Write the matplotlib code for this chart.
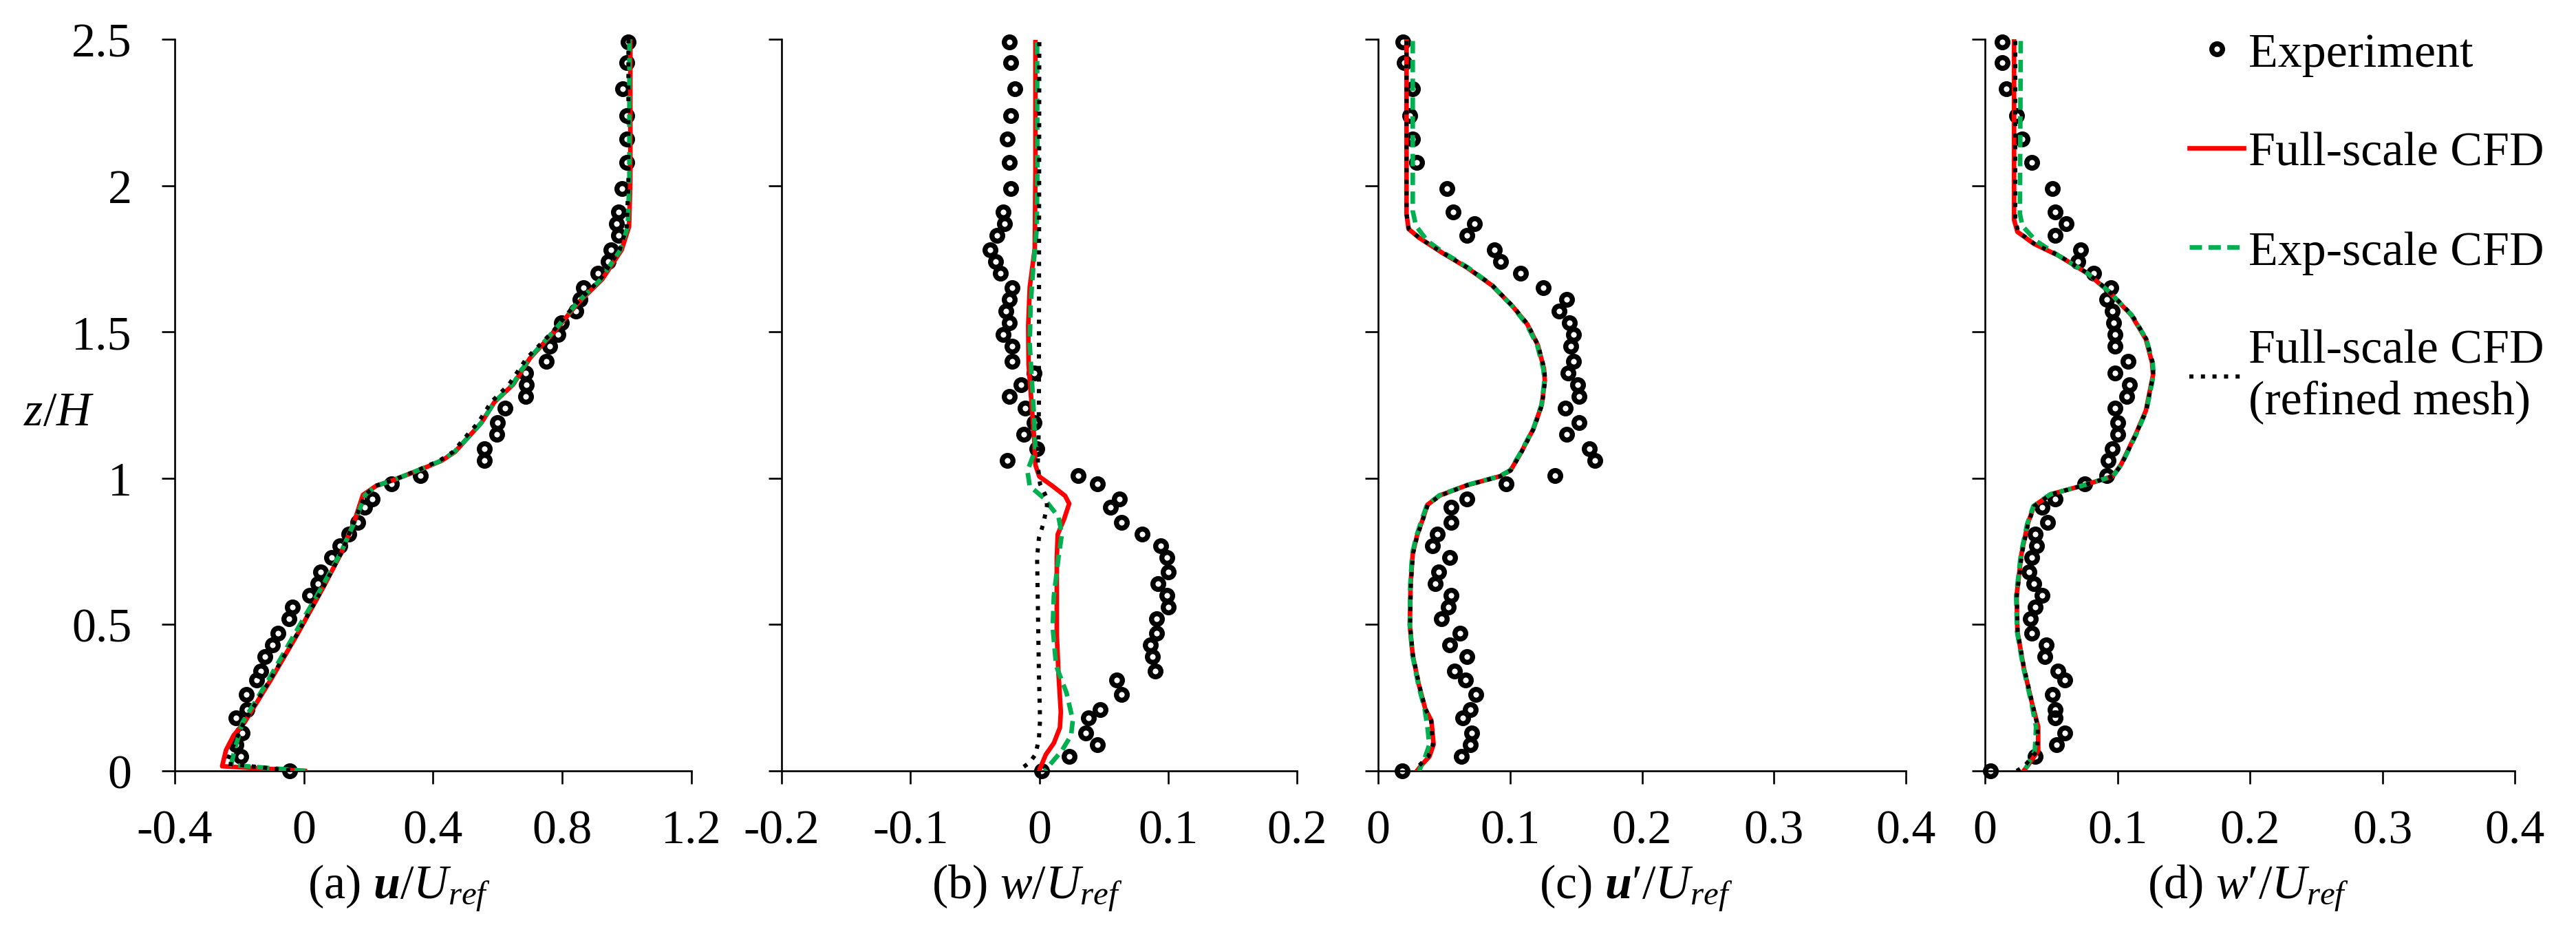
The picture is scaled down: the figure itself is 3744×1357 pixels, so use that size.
import matplotlib
matplotlib.use("Agg")
import matplotlib.pyplot as plt
from matplotlib.ticker import FormatStrFormatter

plt.rcParams["font.family"] = ["Liberation Serif", "DejaVu Serif"]
plt.rcParams["mathtext.fontset"] = "custom"
plt.rcParams["mathtext.rm"] = "Liberation Serif"
plt.rcParams["mathtext.it"] = "Liberation Serif:italic"
plt.rcParams["mathtext.bf"] = "Liberation Serif:italic:bold"
plt.rcParams["axes.unicode_minus"] = False
plt.rcParams["font.size"] = 21

# experiment heights (shared by all four profiles)
z_exp = [2.49, 2.42, 2.33, 2.24, 2.16, 2.08, 1.99, 1.91, 1.87, 1.83,
         1.78, 1.74, 1.70, 1.65, 1.61, 1.57, 1.53, 1.49, 1.45, 1.40,
         1.36, 1.32, 1.28, 1.24, 1.19, 1.15, 1.10, 1.06, 1.01, 0.98,
         0.93, 0.90, 0.85, 0.81, 0.77, 0.73, 0.68, 0.64, 0.60, 0.56,
         0.52, 0.47, 0.43, 0.39, 0.34, 0.31, 0.26, 0.21, 0.18, 0.13,
         0.09, 0.05, 0.0]

u_exp = [1.005, 1.0, 0.988, 1.0, 1.0, 1.0, 0.985, 0.975, 0.967, 0.975,
         0.952, 0.943, 0.91, 0.866, 0.855, 0.843, 0.798, 0.788, 0.761, 0.75,
         0.686, 0.69, 0.687, 0.623, 0.60, 0.598, 0.558, 0.558, 0.36, 0.272,
         0.211, 0.188, 0.168, 0.14, 0.111, 0.085, 0.052, 0.044, 0.018, -0.036,
         -0.046, -0.08, -0.097, -0.121, -0.134, -0.146, -0.178, -0.175, -0.21, -0.19,
         -0.209, -0.196, -0.044]

w_exp = [-0.023, -0.022, -0.019, -0.022, -0.025, -0.023, -0.022, -0.028, -0.027, -0.033,
         -0.038, -0.034, -0.030, -0.021, -0.023, -0.026, -0.023, -0.028, -0.021, -0.021,
         -0.004, -0.014, -0.023, -0.011, -0.004, -0.012, -0.002, -0.025, 0.030, 0.045,
         0.062, 0.055, 0.064, 0.080, 0.094, 0.099, 0.100, 0.092, 0.099, 0.100,
         0.091, 0.091, 0.086, 0.088, 0.090, 0.060, 0.064, 0.047, 0.038, 0.036,
         0.045, 0.023, 0.002]

up_exp = [0.019, 0.020, 0.026, 0.024, 0.026, 0.029, 0.052, 0.057, 0.073, 0.067,
          0.088, 0.093, 0.108, 0.125, 0.143, 0.137, 0.145, 0.148, 0.146, 0.148,
          0.144, 0.151, 0.152, 0.142, 0.152, 0.143, 0.160, 0.164, 0.134, 0.097,
          0.067, 0.055, 0.055, 0.045, 0.041, 0.054, 0.046, 0.043, 0.055, 0.053,
          0.048, 0.062, 0.054, 0.067, 0.058, 0.066, 0.074, 0.070, 0.064, 0.071,
          0.070, 0.063, 0.018]

wp_exp = [0.013, 0.013, 0.016, 0.024, 0.028, 0.035, 0.051, 0.053, 0.061, 0.053,
          0.072, 0.070, 0.082, 0.095, 0.092, 0.096, 0.097, 0.098, 0.098, 0.108,
          0.098, 0.109, 0.107, 0.098, 0.100, 0.100, 0.096, 0.093, 0.092, 0.075,
          0.053, 0.043, 0.047, 0.038, 0.039, 0.035, 0.033, 0.037, 0.043, 0.038,
          0.034, 0.035, 0.046, 0.045, 0.055, 0.060, 0.051, 0.053, 0.053, 0.060,
          0.054, 0.038, 0.004]

# (a) mean streamwise velocity, CFD
z_a_full = [2.50, 2.02, 1.86, 1.78, 1.68, 1.60, 1.50, 1.41, 1.32, 1.26, 1.19, 1.14,
            1.09, 1.06, 1.03, 0.995, 0.974, 0.943, 0.858, 0.747, 0.627, 0.465,
            0.31, 0.165, 0.122, 0.071, 0.016, 0.0]
u_a_full = [1.011, 1.011, 1.007, 0.984, 0.924, 0.850, 0.775, 0.700, 0.648, 0.590, 0.550, 0.509,
            0.468, 0.427, 0.362, 0.281, 0.224, 0.183, 0.158, 0.117, 0.060, -0.021,
            -0.103, -0.184, -0.217, -0.241, -0.253, 0.003]
z_a_exp = [2.50, 2.02, 1.86, 1.78, 1.68, 1.60, 1.50, 1.41, 1.32, 1.26, 1.19, 1.14,
           1.09, 1.06, 1.03, 0.995, 0.974, 0.943, 0.858, 0.747, 0.627, 0.465,
           0.31, 0.165, 0.07, 0.02, 0.0]
u_a_exp = [1.008, 1.008, 1.003, 0.98, 0.92, 0.847, 0.772, 0.698, 0.646, 0.59, 0.55, 0.509,
           0.466, 0.425, 0.36, 0.28, 0.225, 0.19, 0.16, 0.115, 0.055, -0.03,
           -0.11, -0.19, -0.215, -0.225, 0.005]
z_a_ref = [2.50, 2.02, 1.86, 1.78, 1.68, 1.60, 1.50, 1.41, 1.32, 1.26, 1.19, 1.14,
           1.09, 1.06, 1.03, 0.995, 0.974, 0.943, 0.858, 0.747, 0.627, 0.465,
           0.31, 0.165, 0.07, 0.025, 0.0]
u_a_ref = [1.005, 1.005, 1.0, 0.978, 0.918, 0.845, 0.77, 0.69, 0.635, 0.58, 0.54, 0.5,
           0.462, 0.42, 0.358, 0.28, 0.222, 0.19, 0.158, 0.117, 0.06, -0.022,
           -0.105, -0.186, -0.225, -0.24, -0.03]

# (b) mean vertical velocity, CFD
z_b_full = [2.49, 2.05, 1.785, 1.653, 1.52, 1.388, 1.257, 1.125, 1.045, 1.006, 0.973, 0.94,
            0.913, 0.861, 0.808, 0.729, 0.465, 0.333, 0.201, 0.148, 0.095, 0.056, 0.009, 0.0]
w_b_full = [-0.003, -0.003, -0.0035, -0.0074, -0.0086, -0.0083, -0.006, -0.0038, -0.003, 0.0, 0.0104, 0.020,
            0.0232, 0.0193, 0.0143, 0.0136, 0.0136, 0.0149, 0.0167, 0.016, 0.0113, 0.0051, 0.0006, 0.0]
z_b_exp = [2.49, 2.05, 1.851, 1.719, 1.587, 1.455, 1.323, 1.19, 1.098, 1.025, 0.973, 0.933,
           0.868, 0.808, 0.729, 0.597, 0.491, 0.359, 0.267, 0.174, 0.122, 0.069, 0.023, 0.0]
w_b_exp = [-0.0017, -0.0015, -0.002, -0.0047, -0.0068, -0.0074, -0.0056, -0.0038, -0.003, -0.0092, -0.0074, 0.0033,
           0.0149, 0.0175, 0.0149, 0.0113, 0.0104, 0.0131, 0.0211, 0.026, 0.0247, 0.0175, 0.0086, 0.0042]
z_b_ref = [2.49, 1.257, 1.125, 1.045, 0.98, 0.94, 0.907, 0.847, 0.795, 0.729, 0.597, 0.333,
           0.174, 0.108, 0.056, 0.029, 0.009]
w_b_ref = [0.0, -0.0003, -0.0006, -0.0012, 0.0006, 0.005, 0.006, 0.0033, -0.0003, -0.0017, -0.0012, -0.0003,
           0.0006, -0.0003, -0.003, -0.0074, -0.0136]

# (c) streamwise turbulence intensity, CFD
z_c_full = [2.494, 1.903, 1.852, 1.822, 1.771, 1.720, 1.659, 1.587, 1.526, 1.455, 1.373, 1.333,
            1.251, 1.170, 1.088, 1.027, 1.007, 0.976, 0.941, 0.909, 0.864, 0.803, 0.742, 0.640,
            0.497, 0.395, 0.293, 0.212, 0.171, 0.090, 0.049, 0.018, 0.0]
up_c_full = [0.0215, 0.0215, 0.023, 0.0309, 0.0483, 0.0672, 0.0862, 0.102, 0.113, 0.121, 0.1257, 0.1263,
             0.124, 0.1178, 0.1083, 0.1004, 0.0925, 0.0672, 0.0467, 0.0373, 0.0341, 0.0294, 0.0262, 0.0246,
             0.024, 0.0262, 0.0309, 0.0357, 0.0404, 0.042, 0.0388, 0.0325, 0.0294]
z_c_exp = [2.494, 1.913, 1.862, 1.811, 1.771, 1.720, 1.659, 1.587, 1.526, 1.455, 1.373, 1.333,
           1.251, 1.170, 1.088, 1.027, 1.007, 0.976, 0.941, 0.909, 0.864, 0.803, 0.742, 0.640,
           0.497, 0.395, 0.293, 0.212, 0.151, 0.090, 0.049, 0.0]
up_c_exp = [0.0262, 0.0262, 0.0287, 0.0373, 0.0495, 0.068, 0.0865, 0.1018, 0.1125, 0.1205, 0.1252, 0.126,
            0.1238, 0.1176, 0.108, 0.1, 0.092, 0.0668, 0.0462, 0.037, 0.0335, 0.029, 0.0258, 0.0244,
            0.024, 0.026, 0.0305, 0.0352, 0.0373, 0.0388, 0.0357, 0.031]
z_c_ref = z_c_full
up_c_ref = [0.0215, 0.0215, 0.0232, 0.031, 0.0485, 0.0675, 0.0865, 0.1022, 0.1133, 0.1212, 0.126, 0.1265,
            0.1242, 0.118, 0.1085, 0.1006, 0.0928, 0.0675, 0.047, 0.0376, 0.0343, 0.0296, 0.0264, 0.0248,
            0.0242, 0.0264, 0.0311, 0.0358, 0.0402, 0.0415, 0.038, 0.031, 0.028]

# (d) vertical turbulence intensity, CFD
z_d_full = [2.494, 1.883, 1.842, 1.801, 1.760, 1.699, 1.638, 1.557, 1.475, 1.394, 1.353, 1.231,
            1.149, 1.047, 1.007, 0.976, 0.945, 0.905, 0.844, 0.742, 0.599, 0.477, 0.355, 0.232,
            0.151, 0.069, 0.018, 0.0]
wp_d_full = [0.0219, 0.0219, 0.0244, 0.0369, 0.0557, 0.0776, 0.0933, 0.1105, 0.1214, 0.1261, 0.1268, 0.1214,
             0.1136, 0.1027, 0.0964, 0.0745, 0.0495, 0.0369, 0.0322, 0.0275, 0.0238, 0.0244, 0.0291, 0.0354,
             0.0401, 0.0401, 0.0322, 0.0291]
z_d_exp = [2.494, 1.903, 1.862, 1.811, 1.760, 1.699, 1.638, 1.557, 1.475, 1.394, 1.353, 1.231,
           1.149, 1.047, 1.007, 0.976, 0.945, 0.905, 0.844, 0.742, 0.599, 0.477, 0.355, 0.232,
           0.151, 0.069, 0.008]
wp_d_exp = [0.0269, 0.0263, 0.0282, 0.0385, 0.0557, 0.0776, 0.0935, 0.1108, 0.1218, 0.1266, 0.1272, 0.1218,
            0.114, 0.103, 0.0966, 0.0745, 0.0492, 0.0365, 0.0318, 0.0271, 0.0235, 0.0241, 0.0288, 0.035,
            0.0385, 0.0376, 0.0307]
z_d_ref = z_d_full
wp_d_ref = [0.0228, 0.0228, 0.025, 0.0372, 0.056, 0.078, 0.0938, 0.111, 0.1218, 0.1265, 0.127, 0.1216,
            0.1138, 0.103, 0.0966, 0.0748, 0.0498, 0.0372, 0.0325, 0.0278, 0.024, 0.0246, 0.0293, 0.0356,
            0.0398, 0.0395, 0.03, 0.024]

panels = [
    ("(a) $\\mathbf{u}/U_{ref}$", u_exp, (z_a_full, u_a_full), (z_a_exp, u_a_exp), (z_a_ref, u_a_ref),
     (-0.4, 1.2), [-0.4, 0, 0.4, 0.8, 1.2]),
    ("(b) $w/U_{ref}$", w_exp, (z_b_full, w_b_full), (z_b_exp, w_b_exp), (z_b_ref, w_b_ref),
     (-0.2, 0.2), [-0.2, -0.1, 0, 0.1, 0.2]),
    ("(c) $\\mathbf{u}\u2032/U_{ref}$", up_exp, (z_c_full, up_c_full), (z_c_exp, up_c_exp), (z_c_ref, up_c_ref),
     (0, 0.4), [0, 0.1, 0.2, 0.3, 0.4]),
    ("(d) $w\u2032/U_{ref}$", wp_exp, (z_d_full, wp_d_full), (z_d_exp, wp_d_exp), (z_d_ref, wp_d_ref),
     (0, 0.4), [0, 0.1, 0.2, 0.3, 0.4]),
]

lefts = [0.0678, 0.3034, 0.5350, 0.7706]
widths = [0.2006, 0.2001, 0.2049, 0.2057]
label_x = [0.435, 0.477, 0.489, 0.497]

fig = plt.figure(figsize=(15.6, 5.6583), dpi=240)

axes = []
for i, (lab, ex, full, exps, ref, xlim, xt) in enumerate(panels):
    ax = fig.add_axes([lefts[i], 0.1745, widths[i], 0.7828])
    h_exp, = ax.plot(ex, z_exp, "o", ms=4.7, mew=2.2, mfc="none", mec="black",
                     clip_on=False, label="Experiment", zorder=3)
    h_full, = ax.plot(full[1], full[0], "-", color="#FF0000", lw=2.0,
                      label="Full-scale CFD", zorder=4)
    h_es, = ax.plot(exps[1], exps[0], color="#00B050", lw=2.0, ls=(0, (2.7, 1.4)),
                    label="Exp-scale CFD", zorder=5)
    h_ref, = ax.plot(ref[1], ref[0], color="black", lw=1.8, ls=(0, (1, 1.8)),
                     label="Full-scale CFD\n(refined mesh)", zorder=6)
    ax.set_xlim(*xlim)
    ax.set_ylim(0, 2.5)
    ax.set_xticks(xt)
    ax.set_yticks([0, 0.5, 1, 1.5, 2, 2.5])
    ax.xaxis.set_major_formatter(FormatStrFormatter("%g"))
    ax.yaxis.set_major_formatter(FormatStrFormatter("%g"))
    for s in ["top", "right"]:
        ax.spines[s].set_visible(False)
    for s in ["left", "bottom"]:
        ax.spines[s].set_linewidth(0.8)
    ax.tick_params(axis="both", direction="out", length=5.7, width=0.8)
    ax.tick_params(axis="x", pad=11)
    ax.tick_params(axis="y", pad=13)
    if i > 0:
        ax.tick_params(axis="y", labelleft=False)
    ax.text(label_x[i], -0.173, lab, transform=ax.transAxes, ha="center", va="baseline")
    axes.append(ax)

axes[0].set_ylabel("$z/H$", rotation=0, ha="center", va="center")
axes[0].yaxis.set_label_coords(-0.224, 0.489)

axes[3].legend([h_exp, h_full, h_es, h_ref],
               ["Experiment", "Full-scale CFD", "Exp-scale CFD", "Full-scale CFD\n(refined mesh)"],
               loc="upper left", bbox_to_anchor=(0.8499, 0.9647), bbox_transform=fig.transFigure,
               frameon=False, numpoints=1, handlelength=1.13, handletextpad=0.1,
               labelspacing=1.14, borderpad=0, borderaxespad=0)

fig.savefig("out.png", dpi=240)
